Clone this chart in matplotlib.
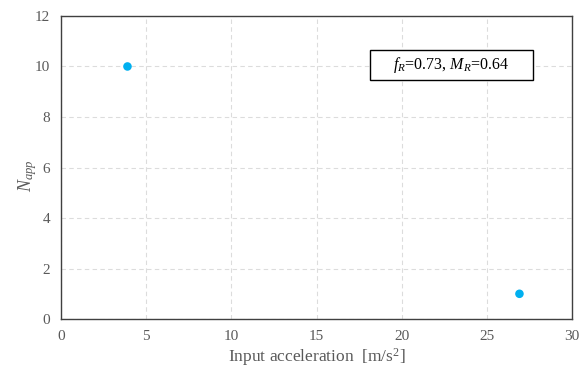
import matplotlib.pyplot as plt
from matplotlib.patches import Rectangle

plt.rcParams['font.family'] = ['Liberation Serif', 'DejaVu Serif']
plt.rcParams['mathtext.fontset'] = 'custom'
plt.rcParams['mathtext.rm'] = 'Liberation Serif'
plt.rcParams['mathtext.it'] = 'Liberation Serif:italic'

# data
accel = [3.9, 26.9]
n_app = [10, 1]
x_ticks = [0, 5, 10, 15, 20, 25, 30]
y_ticks = [0, 2, 4, 6, 8, 10, 12]

fig = plt.figure(figsize=(5.81, 3.71), dpi=100)
ax = fig.add_axes([0.105, 0.14, 0.88, 0.817])

ax.scatter(accel, n_app, s=38, color='#00B0F0', zorder=3, edgecolors='none')

ax.set_xlim(0, 30)
ax.set_ylim(0, 12)
ax.set_xticks(x_ticks)
ax.set_yticks(y_ticks)
ax.grid(True, linestyle=(0, (4, 3)), color='#dcdcdc', linewidth=0.8)
ax.tick_params(length=0, labelsize=11, colors='#595959', pad=8)
for s in ax.spines.values():
    s.set_color('#404040')
    s.set_linewidth(1.0)

ax.set_xlabel('Input acceleration  [m/s$^{2}$]', fontsize=12.5, color='#595959', labelpad=2)
fig.text(28 / 581, 1 - 176 / 371, '$N_{app}$', fontsize=13, color='#595959',
         rotation=90, ha='center', va='center')

# annotation box
ax.add_patch(Rectangle((18.14, 9.47), 9.57, 1.18, facecolor='white', edgecolor='black',
                       linewidth=1.0, zorder=4))
ax.text(22.9, 10.06, '$f_R$=0.73, $M_R$=0.64', fontsize=11.5, ha='center', va='center', zorder=5)

plt.savefig('out.png', dpi=100)
